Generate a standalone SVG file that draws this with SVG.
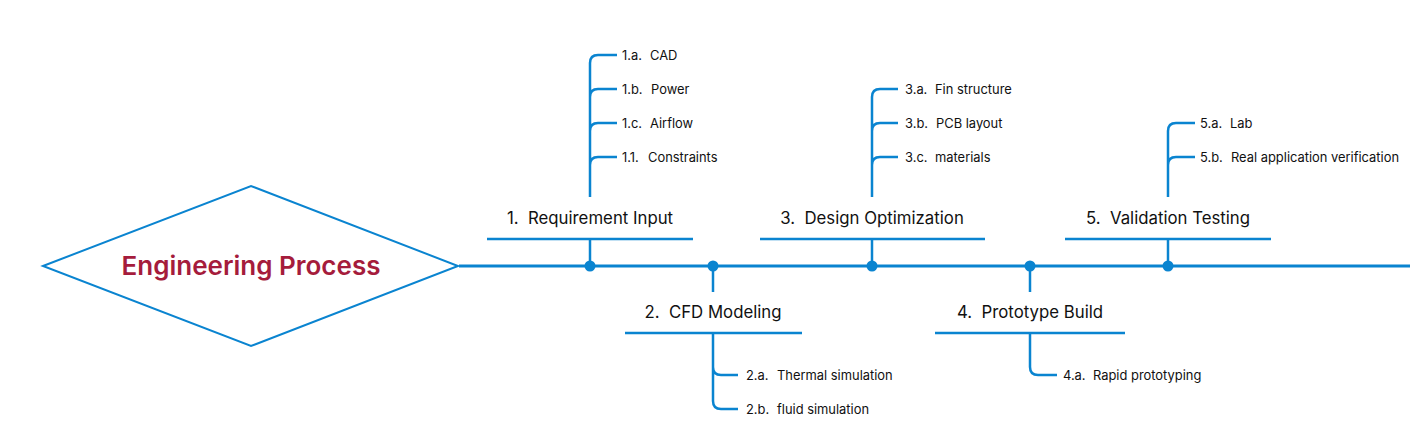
<svg xmlns="http://www.w3.org/2000/svg" width="1424" height="440" viewBox="0 0 1424 440">
<style>
.ln{fill:none;stroke:#0a84d0;stroke-width:2.5;stroke-linecap:butt}
.sp{fill:none;stroke:#0a84d0;stroke-width:3}
.dot{fill:#0a84d0}
.main{font-family:Inter,"Open Sans",sans-serif;font-size:16.8px;fill:#111;text-anchor:middle;white-space:pre}
.sub{font-family:Inter,"Open Sans",sans-serif;font-size:12.9px;fill:#111}
.title{font-family:Inter,"Open Sans",sans-serif;font-size:26px;font-weight:600;fill:#a51c3c;text-anchor:middle}
</style>
<rect width="1424" height="440" fill="#fff"/>
<g id="root">
<polygon points="43,266 251,186 458,266 251,346" fill="#fff" stroke="#0a84d0" stroke-width="2"/>
<text class="title" x="251" y="275">Engineering Process</text>
</g>
<g id="connectors">
<line class="sp" x1="459" y1="266" x2="1410" y2="266"/>
<line class="ln" x1="590" y1="239" x2="590" y2="266"/>
<line class="ln" x1="713" y1="266" x2="713" y2="292"/>
<line class="ln" x1="872" y1="239" x2="872" y2="266"/>
<line class="ln" x1="1030" y1="266" x2="1030" y2="292"/>
<line class="ln" x1="1168" y1="239" x2="1168" y2="266"/>
<circle class="dot" cx="590" cy="266" r="5.5"/>
<circle class="dot" cx="713" cy="266" r="5.5"/>
<circle class="dot" cx="872" cy="266" r="5.5"/>
<circle class="dot" cx="1030" cy="266" r="5.5"/>
<circle class="dot" cx="1168" cy="266" r="5.5"/>
</g>
<g id="node1">
<text class="main" x="590" y="224">1.  Requirement Input</text>
<line class="ln" x1="487" y1="239" x2="693" y2="239"/>
<path class="ln" d="M590 197 V63 Q590 55 598 55 H617 M590 97 Q590 89 598 89 H617 M590 131 Q590 123 598 123 H617 M590 165 Q590 157 598 157 H617"/>
<text class="sub" y="60"><tspan x="622">1.a.</tspan><tspan x="650">CAD</tspan></text>
<text class="sub" y="94"><tspan x="622">1.b.</tspan><tspan x="651">Power</tspan></text>
<text class="sub" y="128"><tspan x="622">1.c.</tspan><tspan x="650">Airflow</tspan></text>
<text class="sub" y="162"><tspan x="622">1.1.</tspan><tspan x="648">Constraints</tspan></text>
</g>
<g id="node2">
<text class="main" x="713" y="318">2.  CFD Modeling</text>
<line class="ln" x1="625" y1="333" x2="802" y2="333"/>
<path class="ln" d="M713 333 V401 Q713 409 721 409 H738 M713 367 Q713 375 721 375 H738"/>
<text class="sub" y="380"><tspan x="746">2.a.</tspan><tspan x="777">Thermal simulation</tspan></text>
<text class="sub" y="414"><tspan x="746">2.b.</tspan><tspan x="777">fluid simulation</tspan></text>
</g>
<g id="node3">
<text class="main" x="872" y="224">3.  Design Optimization</text>
<line class="ln" x1="760" y1="239" x2="985" y2="239"/>
<path class="ln" d="M872 197 V97 Q872 89 880 89 H898 M872 131 Q872 123 880 123 H898 M872 165 Q872 157 880 157 H898"/>
<text class="sub" y="94"><tspan x="905">3.a.</tspan><tspan x="935">Fin structure</tspan></text>
<text class="sub" y="128"><tspan x="905">3.b.</tspan><tspan x="936">PCB layout</tspan></text>
<text class="sub" y="162"><tspan x="905">3.c.</tspan><tspan x="935">materials</tspan></text>
</g>
<g id="node4">
<text class="main" x="1030" y="318">4.  Prototype Build</text>
<line class="ln" x1="935" y1="333" x2="1125" y2="333"/>
<path class="ln" d="M1030 333 V367 Q1030 375 1038 375 H1057"/>
<text class="sub" y="380"><tspan x="1063">4.a.</tspan><tspan x="1093">Rapid prototyping</tspan></text>
</g>
<g id="node5">
<text class="main" x="1168" y="224">5.  Validation Testing</text>
<line class="ln" x1="1065" y1="239" x2="1271" y2="239"/>
<path class="ln" d="M1168 197 V131 Q1168 123 1176 123 H1195 M1168 165 Q1168 157 1176 157 H1195"/>
<text class="sub" y="128"><tspan x="1200">5.a.</tspan><tspan x="1230">Lab</tspan></text>
<text class="sub" y="162"><tspan x="1200">5.b.</tspan><tspan x="1231">Real application verification</tspan></text>
</g>
</svg>
